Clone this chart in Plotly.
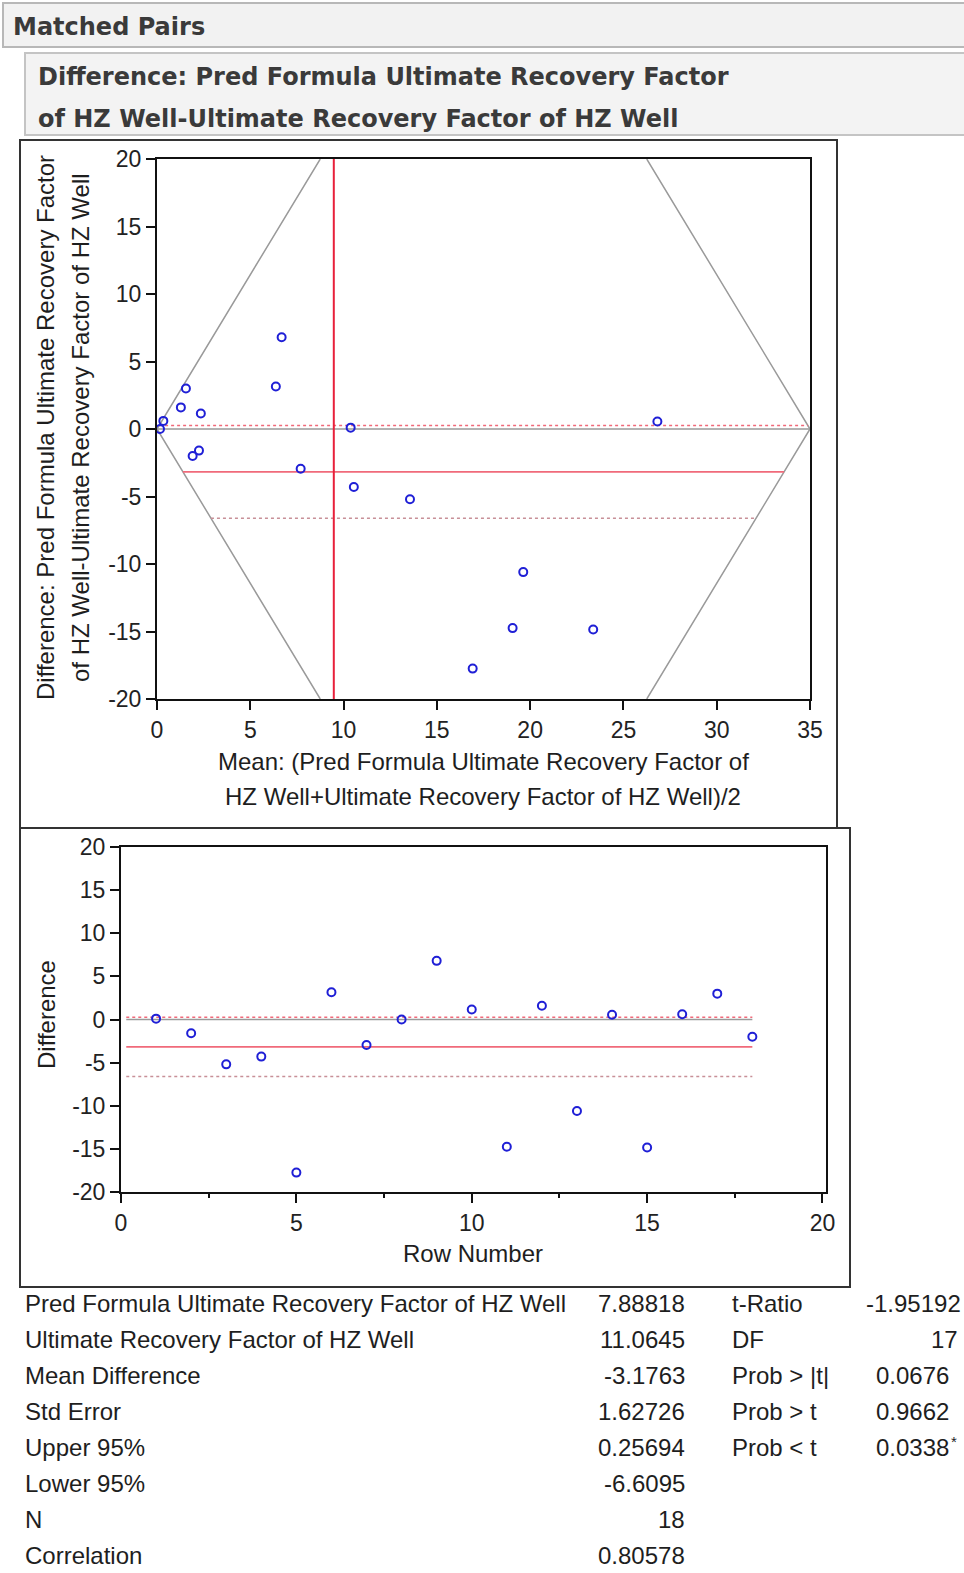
import plotly.graph_objects as go

# ---- data -------------------------------------------------------------
row_number = list(range(1, 19))
pair_mean = [10.38, 2.25, 13.56, 10.55, 16.92, 6.37, 7.70, 0.16, 6.68,
             2.35, 19.06, 1.28, 19.63, 26.82, 23.38, 0.34, 1.55, 1.91]
pair_diff = [0.10, -1.60, -5.20, -4.30, -17.75, 3.15, -2.95, 0.00, 6.80,
             1.15, -14.75, 1.60, -10.60, 0.55, -14.85, 0.60, 3.00, -2.00]

stat_labels = ["Pred Formula Ultimate Recovery Factor of HZ Well",
               "Ultimate Recovery Factor of HZ Well", "Mean Difference",
               "Std Error", "Upper 95%", "Lower 95%", "N", "Correlation"]
stat_values = ["7.88818", "11.0645", "-3.1763", "1.62726", "0.25694",
               "-6.6095", "18", "0.80578"]
test_labels = ["t-Ratio", "DF", "Prob > |t|", "Prob > t", "Prob < t"]
test_values = ["-1.95192", "17", "0.0676", "0.9662", "0.0338*"]

mean_pred = 7.88818
mean_actual = 11.0645
mean_difference = -3.1763
upper_95 = 0.25694
lower_95 = -6.6095

x_ticks_top = [0, 5, 10, 15, 20, 25, 30, 35]
x_ticks_bottom = [0, 5, 10, 15, 20]
y_ticks = [-20, -15, -10, -5, 0, 5, 10, 15, 20]

# ---- page geometry (pixels) ------------------------------------------
W, H = 964, 1573
FONT = "Liberation Sans, Arial, sans-serif"
HEAD_FONT = "DejaVu Sans, Verdana, sans-serif"
BLUE = "#1f1fd6"
RED = "#e8203a"
PINK = "#f06a7a"
GRAY = "#9a9a9a"
TEXT_SIZE = 24


def fx(px):
    return px / W


def fy(py):
    return 1 - py / H


TOP_X0, TOP_X1, TOP_Y0, TOP_Y1 = 157, 810, 159, 699
BOT_X0, BOT_X1, BOT_Y0, BOT_Y1 = 121, 826, 847, 1192

x_range_top = [0, 35]
y_range = [-20, 20]
# rotated frame of the original pair axes: half-width at the y-limits
frame_halfwidth = 8.75
frame_slope = y_range[1] / frame_halfwidth

fig = go.Figure()


def line_trace(xs, ys, color, width, dash="solid", xa="x", ya="y"):
    fig.add_trace(go.Scatter(x=xs, y=ys, mode="lines", xaxis=xa, yaxis=ya,
                             line=dict(color=color, width=width, dash=dash),
                             hoverinfo="skip", showlegend=False))


def frame_left(y):
    return x_range_top[0] + abs(y) / frame_slope


def frame_right(y):
    return x_range_top[1] - abs(y) / frame_slope


# ---- top plot: mean vs difference --------------------------------------
xl, xr = x_range_top
line_trace([frame_left(y_range[1]), xl, frame_left(y_range[0])],
           [y_range[1], 0, y_range[0]], GRAY, 1.5)
line_trace([frame_right(y_range[1]), xr, frame_right(y_range[0])],
           [y_range[1], 0, y_range[0]], GRAY, 1.5)
line_trace([xl, xr], [0, 0], GRAY, 1.5)
line_trace([frame_left(upper_95), frame_right(upper_95)], [upper_95, upper_95],
           PINK, 1.5, "dot")
line_trace([frame_left(lower_95), frame_right(lower_95)], [lower_95, lower_95],
           "#c89098", 1.5, "dot")
line_trace([frame_left(mean_difference), frame_right(mean_difference)],
           [mean_difference, mean_difference], PINK, 1.8)
grand_mean = (mean_pred + mean_actual) / 2
line_trace([grand_mean, grand_mean], y_range, RED, 2)

fig.add_trace(go.Scatter(x=pair_mean, y=pair_diff, mode="markers",
                         marker=dict(symbol="circle-open", size=8, color=BLUE,
                                     line=dict(width=2, color=BLUE)),
                         showlegend=False, hoverinfo="x+y"))

# ---- bottom plot: row number vs difference ------------------------------
r0, r1 = 0.15, row_number[-1]
line_trace([r0, r1], [0, 0], GRAY, 1.5, xa="x2", ya="y2")
line_trace([r0, r1], [upper_95, upper_95], PINK, 1.5, "dot", "x2", "y2")
line_trace([r0, r1], [lower_95, lower_95], "#c89098", 1.5, "dot", "x2", "y2")
line_trace([r0, r1], [mean_difference, mean_difference], PINK, 1.8,
           xa="x2", ya="y2")
fig.add_trace(go.Scatter(x=row_number, y=pair_diff, mode="markers",
                         xaxis="x2", yaxis="y2",
                         marker=dict(symbol="circle-open", size=8, color=BLUE,
                                     line=dict(width=2, color=BLUE)),
                         showlegend=False, hoverinfo="x+y"))

axis_common = dict(showline=True, mirror=True, linecolor="#111111",
                   linewidth=2, ticks="outside", ticklen=9, tickwidth=2,
                   tickcolor="#111111", showgrid=False, zeroline=False,
                   automargin=False,
                   tickfont=dict(family=FONT, size=23, color="#222222"))
y_ticktext = [str(v) for v in y_ticks]

fig.update_layout(
    width=W, height=H,
    margin=dict(l=0, r=0, t=0, b=0, pad=0, autoexpand=False),
    paper_bgcolor="white", plot_bgcolor="white", showlegend=False,
    xaxis=dict(domain=[fx(TOP_X0), fx(TOP_X1)], range=x_range_top,
               tickvals=x_ticks_top, anchor="y", **axis_common),
    yaxis=dict(domain=[fy(TOP_Y1), fy(TOP_Y0)], range=y_range,
               tickvals=y_ticks, ticktext=y_ticktext, anchor="x",
               **axis_common),
    xaxis2=dict(domain=[fx(BOT_X0), fx(BOT_X1)], range=[0, 20.1],
                tickvals=x_ticks_bottom, anchor="y2",
                minor=dict(dtick=2.5, tick0=0, ticks="outside", ticklen=4,
                           tickwidth=2, tickcolor="#111111"),
                **axis_common),
    yaxis2=dict(domain=[fy(BOT_Y1), fy(BOT_Y0)], range=y_range,
                tickvals=y_ticks, ticktext=y_ticktext, anchor="x2",
                **axis_common),
)


# ---- panels and frames ---------------------------------------------------
def open_panel(x0, y0, y1, line_color, fill):
    """Header panel running off the right edge of the page."""
    return [
        dict(type="rect", xref="paper", yref="paper", x0=fx(x0), x1=1,
             y0=fy(y1), y1=fy(y0), line=dict(width=0), fillcolor=fill,
             layer="below"),
        dict(type="path", xref="paper", yref="paper",
             path=f"M 1,{fy(y0)} L {fx(x0)},{fy(y0)} L {fx(x0)},{fy(y1)} "
                  f"L 1,{fy(y1)}",
             line=dict(color=line_color, width=2), layer="below"),
    ]


shapes = (open_panel(3, 3, 47, "#b8b8b8", "#f2f2f2")
          + open_panel(25, 53, 135, "#c4c4c4", "#f3f3f3"))
shapes += [
    dict(type="rect", xref="paper", yref="paper", x0=fx(20), x1=fx(837),
         y0=fy(828), y1=fy(140), line=dict(color="#333333", width=2),
         fillcolor="white", layer="below"),
    dict(type="rect", xref="paper", yref="paper", x0=fx(20), x1=fx(850),
         y0=fy(1287), y1=fy(828), line=dict(color="#333333", width=2),
         fillcolor="white", layer="below"),
]
fig.update_layout(shapes=shapes)

ann = []


def text(px, py, s, size=TEXT_SIZE, anchor="left", family=FONT, angle=0,
         color="#1e1e1e"):
    ann.append(dict(xref="paper", yref="paper", x=fx(px), y=fy(py), text=s,
                    showarrow=False, xanchor=anchor, yanchor="middle",
                    textangle=angle,
                    font=dict(family=family, size=size, color=color)))


# headings
text(11, 27, "<b>Matched Pairs</b>", 24, family=HEAD_FONT, color="#3a3a3a")
text(36, 77, "<b>Difference: Pred Formula Ultimate Recovery Factor</b>", 24,
     family=HEAD_FONT, color="#3a3a3a")
text(36, 119, "<b>of HZ Well-Ultimate Recovery Factor of HZ Well</b>", 24,
     family=HEAD_FONT, color="#3a3a3a")

# axis titles, top plot
text(46, 428, "Difference: Pred Formula Ultimate Recovery Factor",
     anchor="center", angle=-90)
text(81, 428, "of HZ Well-Ultimate Recovery Factor of HZ Well",
     anchor="center", angle=-90)
text(483, 761, "Mean: (Pred Formula Ultimate Recovery Factor of",
     anchor="center")
text(483, 797, "HZ Well+Ultimate Recovery Factor of HZ Well)/2",
     anchor="center")

# axis titles, bottom plot
text(46, 1015, "Difference", anchor="center", angle=-90)
text(473, 1253, "Row Number", anchor="center")

# statistics table
row_y0, row_step = 1303, 36
for i, (lab, val) in enumerate(zip(stat_labels, stat_values)):
    y = row_y0 + i * row_step
    text(23, y, lab)
    text(687, y, val, anchor="right")
for i, (lab, val) in enumerate(zip(test_labels, test_values)):
    y = row_y0 + i * row_step
    text(730, y, lab)
    if val.endswith("*"):
        text(951, y, val[:-1], anchor="right")
        text(949, y - 6, "*", size=15)
    elif "." in val:
        text(951 if len(val) < 8 else 963, y, val, anchor="right")
    else:
        text(960, y, val, anchor="right")

fig.update_layout(annotations=ann)

fig.write_html("out.html")
